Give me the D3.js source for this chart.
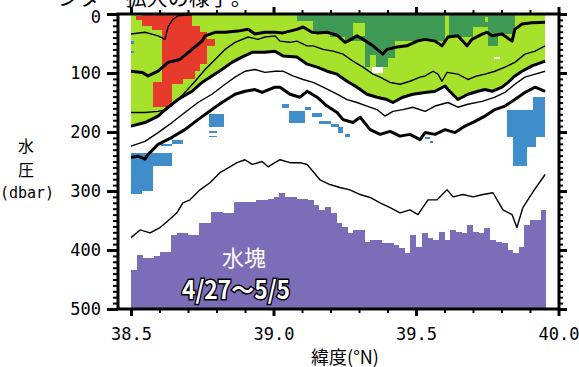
<!DOCTYPE html>
<html><head><meta charset="utf-8">
<script src="https://cdn.jsdelivr.net/npm/d3@7"></script>
<style>
html,body{margin:0;padding:0;background:#fff;}
svg{display:block;}
</style></head>
<body>
<svg id="chart" width="579" height="367"></svg>
<script>
// ---------------- data ----------------
const latDomain = [38.5, 40.0];
const presDomain = [0, 500];
const xTickValues = [38.5, 39.0, 39.5, 40.0];
const xTickLabels = ["38.5", "39.0", "39.5", "40.0"];
const yTickValues = [0, 100, 200, 300, 400, 500];
const yTickLabels = ["0", "100", "200", "300", "400", "500"];

// water-mass (purple) upper boundary, one value per 0.02° column from 38.50
const columnStart = 38.5, columnStep = 0.02, columnEnd = 39.955;
const waterMassTop = [434,408,413,413,410,403,403,374,371,371,374,374,354,354,335,335,338,338,318,318,
  318,318,315,315,313,311,303,311,311,313,313,315,323,332,327,337,354,361,371,366,
  366,386,383,383,388,388,391,396,405,374,395,371,379,383,369,383,366,369,371,357,
  369,371,362,383,386,388,400,405,395,357,349,349,332];

// contour lines [lat, dbar]
const contour0 = [[38.5,34],[38.549,31],[38.595,37],[38.619,43],[38.63,22],[38.647,9],[38.665,3],[38.714,1]];
const contour1 = [[38.5,97],[38.539,99],[38.56,105],[38.595,97],[38.63,82],[38.672,77],[38.714,60],[38.749,46],[38.76,37],[38.795,31],[38.83,31],[38.875,29],[38.911,26],[38.935,34],[38.97,31],[39.005,31],[39.033,32],[39.082,26],[39.104,22],[39.135,31],[39.153,32],[39.188,31],[39.223,36],[39.251,48],[39.261,46],[39.293,37],[39.314,43],[39.349,54],[39.384,68],[39.398,60],[39.433,56],[39.468,54],[39.504,46],[39.532,43],[39.567,46],[39.591,54],[39.612,39],[39.647,37],[39.679,54],[39.696,43],[39.732,34],[39.749,31],[39.767,37],[39.802,34],[39.837,46],[39.847,26],[39.872,17],[39.907,15],[39.953,14]];
const contour2 = [[38.5,167],[38.549,167],[38.595,165],[38.626,162],[38.654,150],[38.689,133],[38.725,114],[38.76,94],[38.795,77],[38.83,60],[38.865,48],[38.911,39],[38.946,43],[38.97,39],[39.005,37],[39.023,46],[39.058,48],[39.082,46],[39.118,54],[39.139,54],[39.174,60],[39.209,63],[39.244,68],[39.279,80],[39.314,90],[39.349,102],[39.374,107],[39.409,116],[39.444,119],[39.479,114],[39.514,107],[39.532,105],[39.56,97],[39.577,102],[39.591,114],[39.609,99],[39.647,102],[39.682,111],[39.714,105],[39.742,102],[39.777,97],[39.812,90],[39.847,82],[39.882,68],[39.918,63],[39.953,54]];
const contour3 = [[38.5,190],[38.549,184],[38.595,173],[38.63,158],[38.665,145],[38.714,131],[38.749,116],[38.784,105],[38.819,94],[38.854,82],[38.889,73],[38.925,65],[38.97,65],[39.005,63],[39.033,71],[39.082,73],[39.118,85],[39.153,90],[39.188,97],[39.223,102],[39.258,114],[39.293,124],[39.328,136],[39.363,141],[39.398,145],[39.419,150],[39.454,141],[39.489,136],[39.532,133],[39.567,131],[39.602,122],[39.612,128],[39.647,145],[39.682,136],[39.718,131],[39.742,128],[39.767,131],[39.802,124],[39.823,116],[39.847,105],[39.872,97],[39.907,88],[39.953,80]];
const contour4 = [[38.5,224],[38.549,216],[38.595,201],[38.644,184],[38.689,167],[38.735,150],[38.784,136],[38.83,119],[38.865,107],[38.9,97],[38.935,94],[38.97,99],[39.005,97],[39.033,97],[39.068,105],[39.104,111],[39.139,116],[39.174,124],[39.223,136],[39.258,145],[39.293,150],[39.328,156],[39.363,162],[39.391,173],[39.419,165],[39.454,162],[39.489,158],[39.532,165],[39.567,156],[39.612,150],[39.647,158],[39.682,153],[39.732,148],[39.777,141],[39.812,133],[39.847,119],[39.882,107],[39.918,102],[39.953,97]];
const contour5 = [[38.5,243],[38.525,241],[38.549,246],[38.56,238],[38.595,221],[38.644,209],[38.689,196],[38.735,179],[38.784,162],[38.819,150],[38.865,136],[38.9,131],[38.935,128],[38.96,133],[39.005,124],[39.023,124],[39.058,136],[39.093,141],[39.118,131],[39.153,141],[39.188,156],[39.223,167],[39.244,179],[39.279,184],[39.304,175],[39.339,196],[39.374,204],[39.409,199],[39.444,207],[39.479,204],[39.514,213],[39.532,201],[39.567,204],[39.602,196],[39.637,201],[39.672,190],[39.707,182],[39.742,173],[39.777,162],[39.812,156],[39.847,145],[39.882,133],[39.918,124],[39.953,131]];
const contour6 = [[38.5,379],[38.532,366],[38.567,371],[38.602,362],[38.626,352],[38.661,337],[38.682,320],[38.707,315],[38.742,298],[38.777,286],[38.812,269],[38.847,259],[38.872,252],[38.9,247],[38.925,255],[38.96,250],[38.981,259],[39.005,252],[39.023,247],[39.058,252],[39.093,252],[39.118,255],[39.163,281],[39.198,289],[39.233,294],[39.268,298],[39.304,306],[39.339,311],[39.374,320],[39.409,328],[39.444,337],[39.479,332],[39.507,340],[39.542,315],[39.574,315],[39.609,298],[39.63,310],[39.665,306],[39.7,310],[39.735,306],[39.77,303],[39.805,332],[39.837,340],[39.854,362],[39.875,328],[39.911,301],[39.953,272]];

// cells [lat0, lat1, dbar0, dbar1]
const redCells = [[38.518,38.539,4,10],[38.539,38.714,0,20],[38.574,38.619,20,27],[38.609,38.742,20,97],[38.742,38.767,31,85],[38.767,38.795,43,54],[38.609,38.725,97,111],[38.609,38.682,111,119],[38.577,38.644,116,158]];
const darkGreenCells = [[39.082,39.139,0,12],[39.139,39.198,0,31],[39.198,39.251,0,39],[39.251,39.321,0,46],[39.321,39.426,0,90],[39.426,39.602,0,46],[39.614,39.70,0,39],[39.70,39.753,0,22],[39.753,39.788,0,54],[39.788,39.847,0,34]];
const lightGreenCells = [[39.28,39.32,15,37],[39.60,39.616,0,46],[39.742,39.752,5,14],[39.34,39.36,70,90],[39.40,39.426,75,90]];
const whiteCells = [[39.345,39.385,90,100],[39.775,39.795,73,77]];
const blueCells = [[38.5,38.51,46,51],[38.5,38.51,63,66],
  [38.5,38.578,236,300],[38.578,38.644,236,257],[38.644,38.682,213,221],[38.606,38.644,221,224],[38.5,38.54,294,305],
  [38.774,38.826,170,192],[38.774,38.8,199,202],[38.774,38.8,206,209],
  [39.03,39.054,153,160],[39.054,39.11,165,184],[39.11,39.13,157,162],[39.135,39.17,167,175],[39.16,39.2,182,187],[39.2,39.23,187,192],[39.225,39.245,192,201],[39.25,39.27,204,209],
  [39.53,39.55,208,212],[39.55,39.56,216,219],
  [39.91,39.953,141,162],[39.82,39.953,162,209],[39.84,39.92,209,226],[39.84,39.89,226,257]];

// ---------------- drawing ----------------
const svg = d3.select("#chart");
const x = d3.scaleLinear().domain(latDomain).range([131, 558.5]);
const y = d3.scaleLinear().domain(presDomain).range([14, 309]);
const plot = svg.append("g");

const C_LG = "#a6e22c", C_DG = "#3e9a55", C_RED = "#e53a2c", C_BLUE = "#3f8dcb", C_PUR = "#7b6db8";

// light green area: surface to contour3
plot.append("path").datum(contour3)
  .attr("fill", C_LG)
  .attr("d", d3.area().x(d => x(d[0])).y0(y(0)).y1(d => y(d[1])));

function cells(data, color) {
  plot.append("g").selectAll("rect").data(data).join("rect")
    .attr("x", d => x(d[0])).attr("width", d => x(d[1]) - x(d[0]))
    .attr("y", d => y(d[2])).attr("height", d => y(d[3]) - y(d[2]))
    .attr("fill", color).attr("shape-rendering", "crispEdges");
}
cells(darkGreenCells, C_DG);
cells(lightGreenCells, C_LG);
cells(redCells, C_RED);
cells(whiteCells, "#fff");
cells(blueCells, C_BLUE);

// water-mass bars
plot.append("g").selectAll("rect").data(waterMassTop).join("rect")
  .attr("x", (d, i) => x(columnStart + i * columnStep))
  .attr("width", (d, i) => x(Math.min(columnStart + (i + 1) * columnStep, columnEnd)) - x(columnStart + i * columnStep) + 0.3)
  .attr("y", d => y(d))
  .attr("height", d => y(500) - y(d))
  .attr("fill", C_PUR).attr("shape-rendering", "crispEdges");

// contour lines
const line = d3.line().x(d => x(d[0])).y(d => y(d[1]));
const contours = [[contour0, 1.4], [contour1, 3], [contour2, 1.4], [contour3, 3], [contour4, 1.4], [contour5, 3], [contour6, 1.4]];
contours.forEach(([c, w]) => {
  plot.append("path").datum(c).attr("d", line)
    .attr("fill", "none").attr("stroke", "#000").attr("stroke-width", w)
    .attr("stroke-linejoin", "round");
});

// labels inside
svg.append("text").attr("x", 244).attr("y", 266).attr("text-anchor", "middle")
  .attr("font-family", "'Noto Sans CJK JP'").attr("font-size", 22).attr("fill", "#fff")
  .text("水塊");
svg.append("text").attr("x", 236).attr("y", 299).attr("text-anchor", "middle")
  .attr("font-family", "'Noto Sans CJK JP'").attr("font-size", 25).attr("font-weight", "bold")
  .attr("fill", "#fff").attr("stroke", "#000").attr("stroke-width", 3).attr("paint-order", "stroke")
  .attr("textLength", 108).attr("lengthAdjust", "spacingAndGlyphs")
  .text("4/27～5/5");

// ---------------- axes / frame ----------------
const leftX = 118, rightX = 559, topY = 14, botY = 309;
const monoFont = "'DejaVu Sans Mono', monospace";

function styleAxis(g, w) {
  g.select(".domain").remove();
  g.selectAll("line").attr("stroke", "#000").attr("stroke-width", w);
}
// left
svg.append("g").attr("transform", `translate(${leftX},0)`)
  .call(d3.axisLeft(y).tickValues(d3.range(0, 501, 10)).tickSize(5).tickFormat(""))
  .call(g => styleAxis(g, 2));
const ly = svg.append("g").attr("transform", `translate(${leftX},0)`)
  .call(d3.axisLeft(y).tickValues(yTickValues).tickSize(11).tickPadding(6).tickFormat((d, i) => yTickLabels[i]))
  .call(g => styleAxis(g, 3));
ly.selectAll("text").attr("font-family", monoFont).attr("font-size", 17).attr("fill", "#000");
ly.selectAll(".tick").filter(d => d === 0).select("text").attr("dy", "0.5em");
// right
svg.append("g").attr("transform", `translate(${rightX},0)`)
  .call(d3.axisRight(y).tickValues(d3.range(0, 501, 10)).tickSize(4).tickFormat(""))
  .call(g => styleAxis(g, 2));
svg.append("g").attr("transform", `translate(${rightX},0)`)
  .call(d3.axisRight(y).tickValues(yTickValues).tickSize(8).tickFormat(""))
  .call(g => styleAxis(g, 3));
// bottom
svg.append("g").attr("transform", `translate(0,${botY})`)
  .call(d3.axisBottom(x).tickValues(d3.range(38.5, 40.01, 0.1)).tickSize(4).tickFormat(""))
  .call(g => styleAxis(g, 2));
const bx = svg.append("g").attr("transform", `translate(0,${botY})`)
  .call(d3.axisBottom(x).tickValues(xTickValues).tickSize(7).tickPadding(12).tickFormat((d, i) => xTickLabels[i]))
  .call(g => styleAxis(g, 3));
bx.selectAll("text").attr("font-family", monoFont).attr("font-size", 17).attr("fill", "#000");
// top
svg.append("g").attr("transform", `translate(0,${topY})`)
  .call(d3.axisTop(x).tickValues(d3.range(38.5, 40.01, 0.1)).tickSize(4).tickFormat(""))
  .call(g => styleAxis(g, 2));
svg.append("g").attr("transform", `translate(0,${topY})`)
  .call(d3.axisTop(x).tickValues(xTickValues).tickSize(7).tickFormat(""))
  .call(g => styleAxis(g, 3));

// frame
svg.append("rect").attr("x", leftX).attr("y", topY).attr("width", rightX - leftX).attr("height", botY - topY)
  .attr("fill", "none").attr("stroke", "#000").attr("stroke-width", 3);

// axis titles
const jp = "'Noto Sans CJK JP', sans-serif";
svg.append("text").attr("x", 26).attr("y", 152).attr("text-anchor", "middle")
  .attr("font-family", jp).attr("font-size", 16).text("水");
svg.append("text").attr("x", 26).attr("y", 176).attr("text-anchor", "middle")
  .attr("font-family", jp).attr("font-size", 16).text("圧");
svg.append("text").attr("x", 27).attr("y", 198).attr("text-anchor", "middle")
  .attr("font-family", monoFont).attr("font-size", 15).text("(dbar)");
svg.append("text").attr("x", 345).attr("y", 364).attr("text-anchor", "middle")
  .attr("font-family", jp).attr("font-size", 18).text("緯度(°N)");

// clipped caption at the very top
svg.append("text").attr("x", 58).attr("y", 5)
  .attr("font-family", jp).attr("font-size", 21).text("ンター 拡大の様子。");
</script>
</body></html>
